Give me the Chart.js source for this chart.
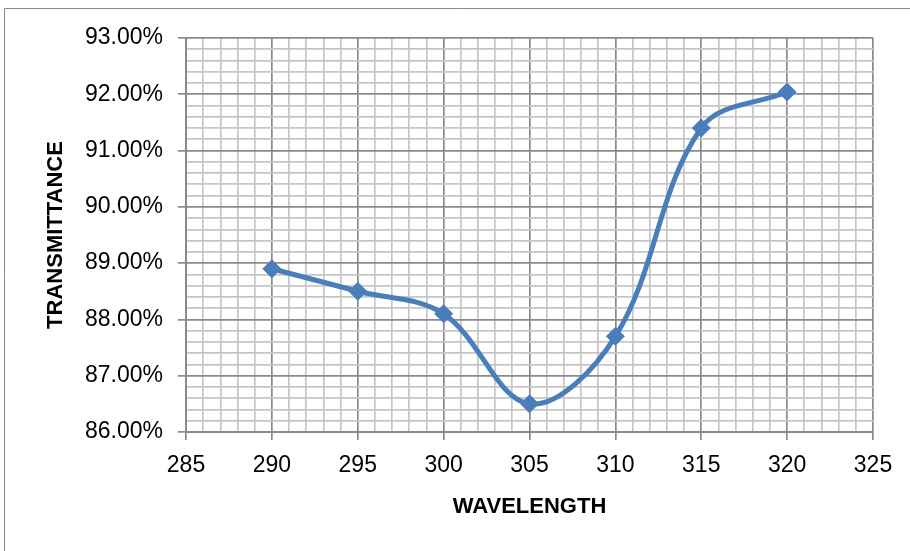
<!DOCTYPE html>
<html>
<head>
<meta charset="utf-8">
<script src="https://cdn.jsdelivr.net/npm/chart.js@4/dist/chart.umd.min.js"></script>
<style>
html,body{margin:0;padding:0;background:#fff;}
#wrap{position:absolute;left:0;top:0;width:910px;height:551px;}
</style>
</head>
<body>
<div id="wrap"><canvas id="c" width="910" height="551"></canvas></div>
<script>
const wavelengths = [290, 295, 300, 305, 310, 315, 320];
const transmittance = [88.9, 88.5, 88.1, 86.5, 87.7, 91.4, 92.04];
const xTickValues = [285, 290, 295, 300, 305, 310, 315, 320, 325];
const yTickValues = [86, 87, 88, 89, 90, 91, 92, 93];
const xTitle = 'WAVELENGTH';
const yTitle = 'TRANSMITTANCE';

const isMajor = (v) => Math.abs(v - Math.round(v)) < 1e-6;
const xMajor = (v) => Math.abs(v / 5 - Math.round(v / 5)) < 1e-6;

const xAll = [];
for (let v = xTickValues[0]; v <= xTickValues[xTickValues.length - 1]; v += 1) xAll.push(v);
const yAll = [];
for (let i = 0; i <= (yTickValues[yTickValues.length - 1] - yTickValues[0]) * 5; i++) yAll.push(+(yTickValues[0] + i * 0.2).toFixed(1));

const MAJOR = '#8a8a8a';
const MINOR = '#c6c6c6';
const BLUE = '#4a7ebb';

const borderPlugin = {
  id: 'outerBorder',
  beforeDraw(chart) {
    const ctx = chart.ctx;
    ctx.save();
    ctx.strokeStyle = '#8a8a8a';
    ctx.lineWidth = 1;
    ctx.beginPath();
    ctx.moveTo(4.5, 551);
    ctx.lineTo(4.5, 8.5);
    ctx.lineTo(910, 8.5);
    ctx.stroke();
    ctx.restore();
  }
};

new Chart(document.getElementById('c'), {
  type: 'line',
  data: {
    datasets: [{
      data: wavelengths.map((w, i) => ({x: w, y: transmittance[i]})),
      borderColor: BLUE,
      backgroundColor: BLUE,
      borderWidth: 5,
      tension: 0.36,
      pointStyle: 'rectRot',
      pointRadius: 9,
      pointBorderWidth: 1,
      pointBackgroundColor: BLUE,
      pointBorderColor: BLUE,
      fill: false
    }]
  },
  options: {
    responsive: false,
    animation: false,
    events: [],
    layout: {padding: {left: 0, top: 38, right: 37, bottom: 0}},
    plugins: {legend: {display: false}, tooltip: {enabled: false}},
    scales: {
      x: {
        type: 'linear',
        min: 285, max: 325,
        afterBuildTicks(s) { s.ticks = xAll.map(v => ({value: v})); },
        afterFit(s) { s.height = 119; },
        border: {display: true, color: MAJOR, width: 2},
        grid: {
          color: (c) => xMajor(c.tick.value) ? MAJOR : MINOR,
          tickColor: (c) => xMajor(c.tick.value) ? MAJOR : 'rgba(0,0,0,0)',
          tickLength: 8,
          lineWidth: 1.7
        },
        ticks: {
          autoSkip: false,
          maxRotation: 0,
          padding: 12,
          color: '#000',
          font: {family: '"Liberation Sans", Arial, sans-serif', size: 23},
          callback: (v) => xMajor(v) ? String(Math.round(v)) : ''
        },
        title: {
          display: true, text: xTitle, color: '#000',
          font: {family: '"Liberation Sans", Arial, sans-serif', size: 22, weight: 'bold'},
          padding: {top: 0, bottom: 31}
        }
      },
      y: {
        type: 'linear',
        min: 86, max: 93,
        afterBuildTicks(s) { s.ticks = yAll.map(v => ({value: v})); },
        afterFit(s) { s.width = 186; },
        border: {display: true, color: MAJOR, width: 2},
        grid: {
          color: (c) => isMajor(c.tick.value) ? MAJOR : MINOR,
          tickColor: (c) => isMajor(c.tick.value) ? MAJOR : 'rgba(0,0,0,0)',
          tickLength: 8,
          lineWidth: 1.7
        },
        ticks: {
          autoSkip: false,
          padding: 15,
          color: '#000',
          font: {family: '"Liberation Sans", Arial, sans-serif', size: 23},
          callback: (v) => isMajor(v) ? v.toFixed(2) + '%' : ''
        },
        title: {
          display: true, text: yTitle, color: '#000',
          font: {family: '"Liberation Sans", Arial, sans-serif', size: 22, weight: 'bold'},
          padding: {top: 43, bottom: 0}
        }
      }
    }
  },
  plugins: [borderPlugin]
});
</script>
</body>
</html>
